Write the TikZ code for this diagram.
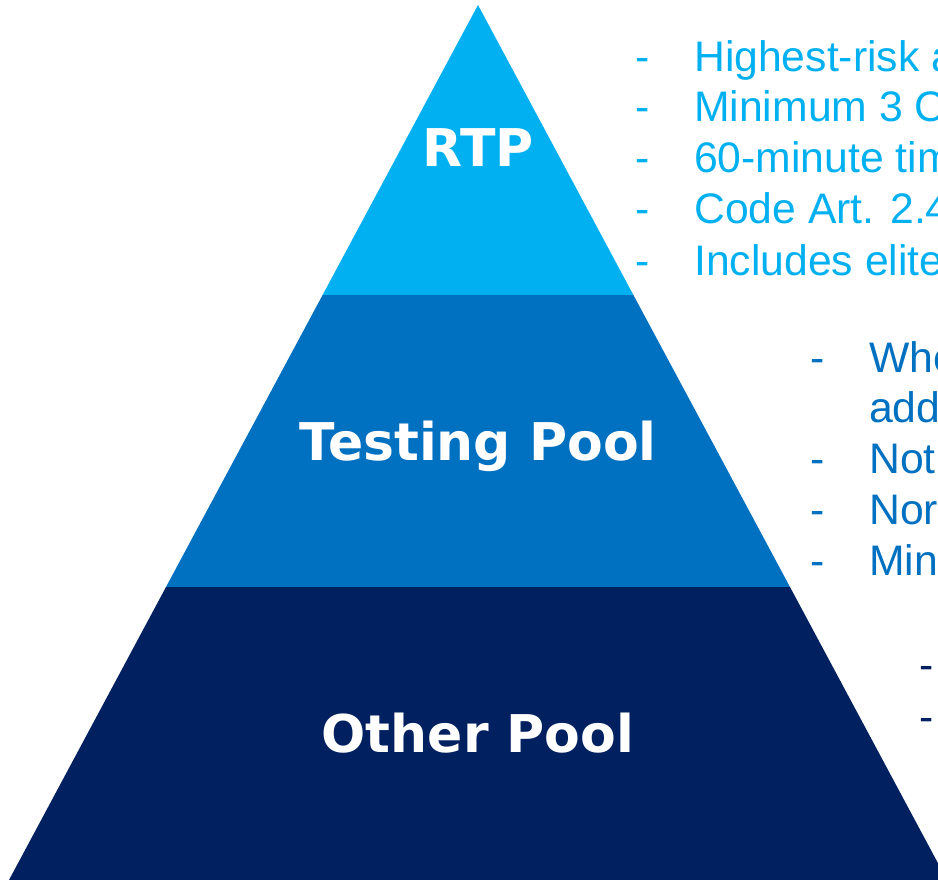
\documentclass[tikz,border=0pt]{standalone}
\usepackage{fontspec}
\setmainfont{Liberation Sans}
\newfontfamily\poolfont{DejaVu Sans}

\definecolor{rtpblue}{HTML}{00B0F0}
\definecolor{testblue}{HTML}{0070C0}
\definecolor{otherblue}{HTML}{002060}

\tikzset{
  pool label/.style={text=white, font=\poolfont\bfseries\fontsize{52}{60}\selectfont, anchor=base, inner sep=0pt},
  bullet/.style={font=\fontsize{42.7}{51}\selectfont, anchor=base west, inner sep=0pt}
}

\begin{document}
\begin{tikzpicture}[x=1pt, y=-1pt]
  \useasboundingbox (0,0) rectangle (938,880);
  \clip (0,0) rectangle (938,880);
  % three layers of the pyramid
  \fill[rtpblue] (478,5) -- (633.4,295) -- (322.6,295) -- cycle;
  \fill[testblue] (322.6,295) -- (633.4,295) -- (790,587) -- (166,587) -- cycle;
  \fill[otherblue] (166,587) -- (790,587) -- (947,880) -- (9,880) -- cycle;
  \node[pool label] (rtp) at (478,167) {RTP};
  \node[pool label] (testing) at (478,460) {Testing Pool};
  \node[pool label] (other) at (478,752) {Other Pool};
  % bullet lists beside each layer
  \foreach \y/\txt [count=\i] in {72/Highest-risk a, 122/Minimum 3 C, 173/60-minute tim, 224/Code Art. 2.4, 275/Includes elite} {
    \node[bullet, text=rtpblue] (rtpdash\i) at (635,\y) {-};
    \node[bullet, text=rtpblue] (rtpitem\i) at (694,\y) {\txt};
  }
  \foreach \y/\txt [count=\i] in {372/Whe, 473/Not, 524/Nor, 575/Min} {
    \node[bullet, text=testblue] (testdash\i) at (810,\y) {-};
    \node[bullet, text=testblue] (testitem\i) at (869,\y) {\txt};
  }
  \node[bullet, text=testblue] (testcont) at (869,422) {add};
  \foreach \y [count=\i] in {679, 731} {
    \node[bullet, text=otherblue] (otherdash\i) at (919,\y) {-};
  }
\end{tikzpicture}
\end{document}
